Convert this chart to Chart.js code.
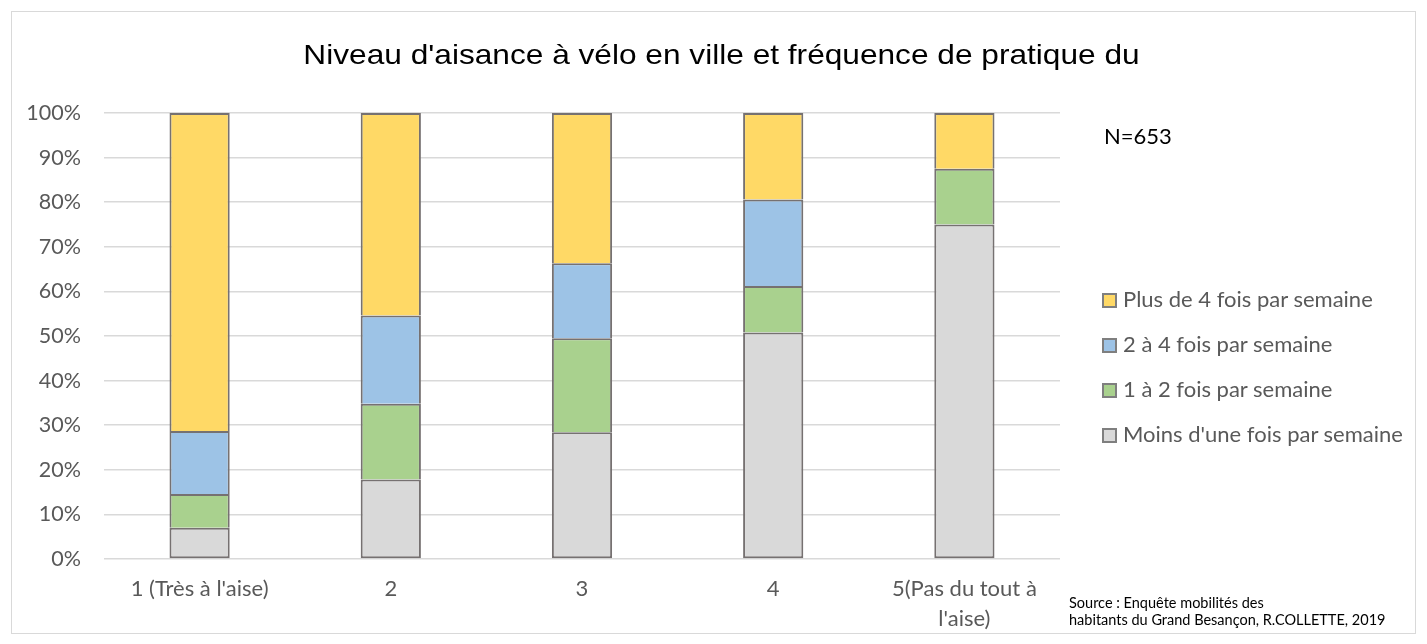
<!DOCTYPE html>
<html>
<head>
<meta charset="utf-8">
<script src="https://cdn.jsdelivr.net/npm/chart.js@4/dist/chart.umd.min.js"></script>
<style>
  body { margin: 0; background: #fff; }
  #wrap { position: relative; width: 1427px; height: 644px; }
  #frame { position: absolute; left: 11px; top: 11px; width: 1405px; height: 623px; border: 1px solid #d9d9d9; box-sizing: border-box; }
  #title { position: absolute; left: 8px; width: 1427px; top: 41px; line-height: 28px; text-align: center; font-family: "Liberation Sans", Arial, sans-serif; font-size: 28px; color: #000; transform: scaleX(1.13); }
  #n { position: absolute; left: 1104px; top: 122px; font-family: Lato, sans-serif; font-size: 22px; color: #000; }
  #legend { position: absolute; left: 1102px; top: 284px; font-family: Lato, sans-serif; font-size: 22px; color: #595959; }
  #legend div { height: 45px; line-height: 30px; white-space: nowrap; }
  #legend span { display: inline-block; width: 11px; height: 11px; border: 2px solid #7f7f7f; margin-right: 6px; vertical-align: -1px; }
  #source { position: absolute; left: 1069px; top: 594px; font-family: Lato, sans-serif; font-size: 14.5px; line-height: 17px; color: #000; }
  canvas { position: absolute; left: 0; top: 0; }
</style>
</head>
<body>
<div id="wrap">
  <div id="frame"></div>
  <canvas id="c" width="1427" height="644"></canvas>
  <div id="title">Niveau d'aisance à vélo en ville et fréquence de pratique du</div>
  <div id="n">N=653</div>
  <div id="legend"></div>
  <div id="source">Source : Enquête mobilités des<br>habitants du Grand Besançon, R.COLLETTE, 2019</div>
</div>
<script>
// niveaux d'aisance
var categories = ["1 (Très à l'aise)", "2", "3", "4", ["5(Pas du tout à", "l'aise)"]];

// parts en % (empilées)
var moinsUneFois = [7.0, 17.8, 28.4, 50.8, 75.0];
var unADeux = [7.6, 17.0, 21.1, 10.4, 12.5];
var deuxAQuatre = [14.1, 19.8, 16.8, 19.4, 0];
var plusDeQuatre = [71.3, 45.4, 33.7, 19.4, 12.5];

var yTicks = [0, 10, 20, 30, 40, 50, 60, 70, 80, 90, 100];

var edge = "#767171";
var series = [
  { label: "Moins d'une fois par semaine", data: moinsUneFois, color: "#d9d9d9" },
  { label: "1 à 2 fois par semaine", data: unADeux, color: "#a9d18e" },
  { label: "2 à 4 fois par semaine", data: deuxAQuatre, color: "#9dc3e6" },
  { label: "Plus de 4 fois par semaine", data: plusDeQuatre, color: "#ffd966" }
];

var datasets = series.map(function (s, i) {
  return {
    label: s.label,
    data: s.data,
    backgroundColor: s.color,
    borderColor: edge,
    borderWidth: function (ctx) { return ctx.raw ? 2 : 0; },
    // pas de double trait entre segments : le haut du segment inférieur suffit
    borderSkipped: i === 0 ? false : "bottom",
    barPercentage: 0.315,
    categoryPercentage: 1
  };
});

// légende à droite, ordre inversé comme Excel
var lg = document.getElementById("legend");
series.slice().reverse().forEach(function (s) {
  var d = document.createElement("div");
  d.innerHTML = '<span style="background:' + s.color + '"></span>' + s.label;
  lg.appendChild(d);
});

Chart.defaults.font.family = "Lato, sans-serif";
Chart.defaults.color = "#595959";

new Chart(document.getElementById("c").getContext("2d"), {
  type: "bar",
  data: { labels: categories, datasets: datasets },
  options: {
    responsive: false,
    animation: false,
    layout: { padding: { top: 113, right: 367, bottom: 0, left: 0 } },
    plugins: { legend: { display: false }, tooltip: { enabled: false } },
    scales: {
      x: {
        stacked: true,
        grid: { display: false },
        border: { display: false },
        ticks: { font: { size: 22, lineHeight: 1.36 }, color: "#595959", maxRotation: 0, padding: 7 },
        afterFit: function (s) { s.height = 85; }
      },
      y: {
        stacked: true,
        min: 0,
        max: 100,
        afterBuildTicks: function (s) { s.ticks = yTicks.map(function (v) { return { value: v }; }); },
        grid: { color: "#d9d9d9", lineWidth: 1.5, drawTicks: false },
        border: { display: false },
        ticks: { font: { size: 21.5 }, color: "#595959", padding: 23, callback: function (v) { return v + "%"; } },
        afterFit: function (s) { s.width = 104; }
      }
    }
  }
});
</script>
</body>
</html>
